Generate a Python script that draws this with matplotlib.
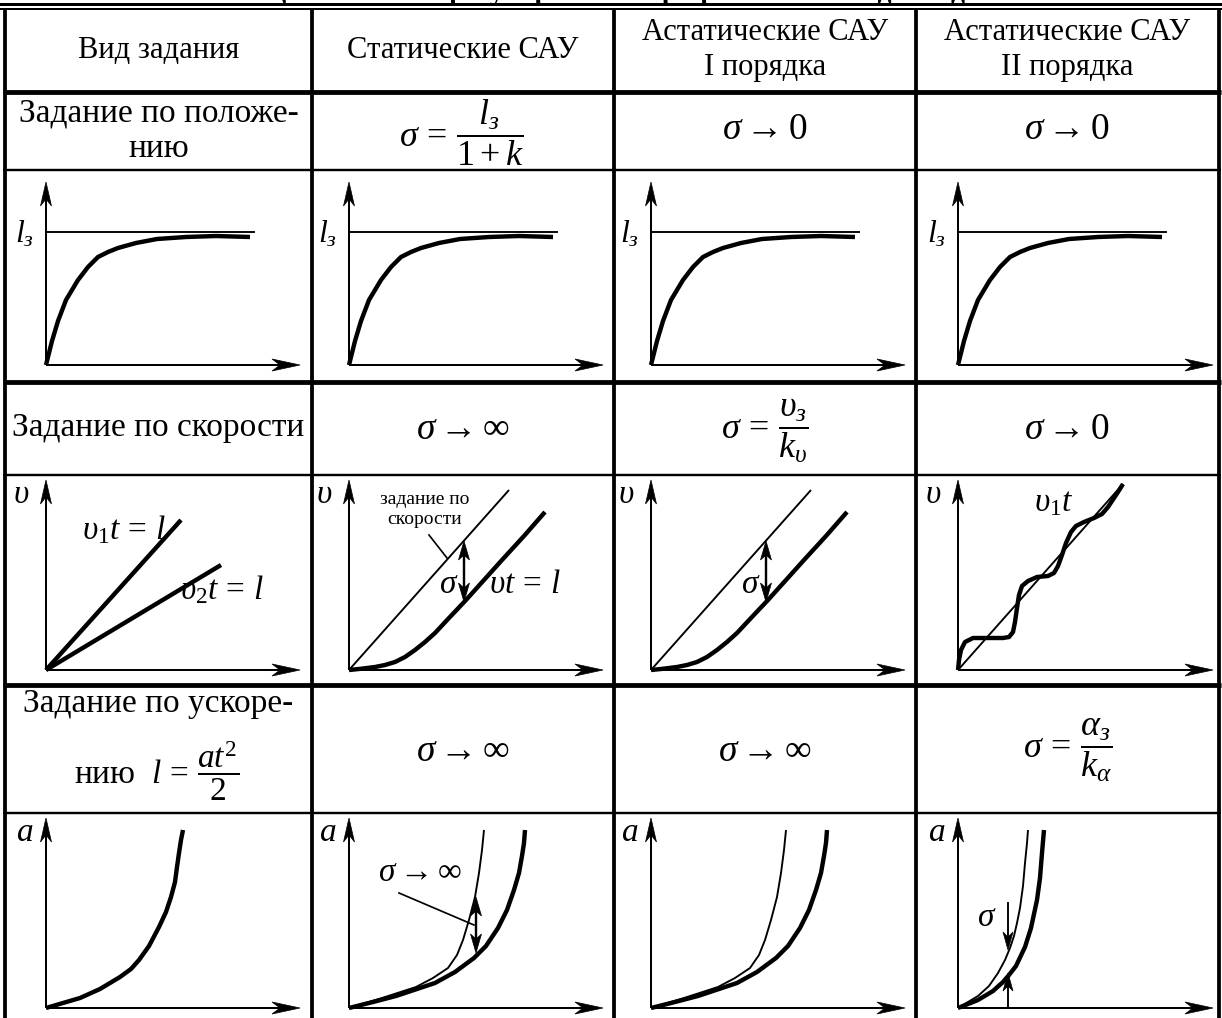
import matplotlib
matplotlib.use("Agg")
import matplotlib.pyplot as plt
import matplotlib.transforms as mtransforms
from matplotlib.patches import Polygon

plt.rcParams['font.family'] = ['Liberation Serif', 'DejaVu Serif']
plt.rcParams['mathtext.fontset'] = 'custom'
plt.rcParams['mathtext.rm'] = 'Liberation Serif'
plt.rcParams['mathtext.it'] = 'Liberation Serif:italic'
plt.rcParams['mathtext.bf'] = 'Liberation Serif:bold'
plt.rcParams['mathtext.fallback'] = 'stix'

# ---------------- data ----------------
COL_HEADERS = ["Вид задания", "Статические САУ",
               "Астатические САУ\nI порядка", "Астатические САУ\nII порядка"]
ROW1_TEXT = ["Задание по положе-\nнию",
             r"$\sigma\,=\,\dfrac{l_{\mathit{з}}}{1+k}$",
             r"$\sigma\rightarrow0$", r"$\sigma\rightarrow0$"]
ROW2_TEXT = ["Задание по скорости", r"$\sigma\rightarrow\infty$",
             r"$\sigma\,=\,\dfrac{\upsilon_{\mathit{з}}}{k_{\upsilon}}$",
             r"$\sigma\rightarrow0$"]
ROW3_TEXT = ["Задание по ускоре-", r"$\sigma\rightarrow\infty$",
             r"$\sigma\rightarrow\infty$",
             r"$\sigma\,=\,\dfrac{\alpha_{\mathit{з}}}{k_{\alpha}}$"]
ROW3_LINE2 = r"нию  $l\,=\,\dfrac{at^2}{2}$"
TITLE = "Таблица 2. Ошибки регулирования при различных видах задания"

# position response (l_з plots), local units
POS_SET_LEVEL = 133
POS_SET_T = [0, 208]
POS_T = [0, 6, 12, 20, 32, 42, 52, 62, 72, 90, 111, 140, 170, 204]
POS_L = [0, 24, 44, 65, 85, 98, 108, 113, 117, 122, 126, 128, 129, 128]

# velocity plots
V1_T, V1_L = [0, 135], [0, 150]
V2_T, V2_L = [0, 175], [0, 105]
VSET_T, VSET_L = [0, 160], [0, 180]
VRESP_T = [0, 10, 26, 36, 46, 56, 66, 76, 86, 100, 117, 135, 153, 175, 196]
VRESP_L = [0, 1, 3, 5, 8, 13, 20, 28, 37, 52, 70, 90, 110, 134, 158]
VSET4_T, VSET4_L = [0, 165], [0, 186]
VOSC_T = [0, 1, 3, 7, 15, 30, 45, 51, 55, 57, 59, 61, 64, 70, 79, 90, 96, 100,
          104, 108, 113, 118, 126, 136, 144, 150, 156, 160, 165]
VOSC_L = [0, 10, 20, 28, 32, 32, 32, 33, 38, 48, 62, 75, 84, 89, 93, 94, 97, 104,
          115, 127, 138, 144, 148, 152, 156, 163, 172, 178, 186]

# acceleration plots
A1_T = [0, 17, 34, 54, 74, 85, 93, 103, 113, 120, 125, 129, 131, 133, 135, 137]
A1_L = [0, 5, 10, 19, 31, 39, 48, 62, 81, 96, 111, 126, 141, 155, 168, 178]
ASET_T = [0, 33, 67, 84, 99, 108, 114, 120, 126, 130, 133, 135]
ASET_L = [0, 10, 21, 30, 40, 53, 68, 88, 111, 135, 158, 178]
ARESP_T = [0, 24, 47, 86, 106, 125, 137, 149, 158, 165, 170, 173, 175, 176]
ARESP_L = [0, 6, 12, 25, 36, 50, 62, 80, 98, 118, 135, 152, 165, 178]
A4SET_T = [0, 20, 31, 40, 47, 52, 56, 59, 62, 65, 67, 69, 70]
A4SET_L = [0, 12, 22, 35, 48, 60, 72, 85, 100, 122, 145, 165, 178]
A4RESP_T = [0, 20, 35, 45, 51, 58, 67, 73, 79, 82, 84, 86]
A4RESP_L = [0, 8, 17, 26, 33, 42, 61, 80, 108, 130, 155, 178]

# ---------------- layout ----------------
W, H = 1222, 1018
COL_X = [5, 312, 614, 916, 1219]
COL_C = [(COL_X[i] + COL_X[i + 1]) / 2 for i in range(4)]
AXIS_X = [46, 349, 651, 958]
XTIP = [300, 603, 905, 1213]
ORIGIN_Y = [365, 670, 1008]
YTOP = [182, 480, 818]

PX = 0.72  # points per pixel
K = 'black'

fig = plt.figure(figsize=(W / 100, H / 100), dpi=100)
ax = fig.add_axes([0, 0, 1, 1])
ax.set_xlim(0, W)
ax.set_ylim(H, 0)
ax.axis('off')


def local(ox, oy):
    return mtransforms.Affine2D().scale(1, -1).translate(ox, oy) + ax.transData


def head(tr, x, y, direction, L=24, hw=5.5, notch=7):
    if direction == 'up':
        pts = [(x, y), (x - hw, y - L), (x, y - L + notch), (x + hw, y - L)]
    elif direction == 'down':
        pts = [(x, y), (x - hw, y + L), (x, y + L - notch), (x + hw, y + L)]
    else:
        pts = [(x, y), (x - L, y + hw), (x - L + notch, y), (x - L, y - hw)]
    ax.add_patch(Polygon(pts, closed=True, transform=tr, facecolor=K,
                         edgecolor=K, lw=0.5, zorder=5))


def frame(ci, ri):
    ox, oy = AXIS_X[ci], ORIGIN_Y[ri]
    tr = local(ox, oy)
    ylen = oy - YTOP[ri]
    xlen = XTIP[ci] - ox
    ax.plot([0, 0], [0, ylen - 12], color=K, lw=2 * PX, transform=tr,
            solid_capstyle='butt')
    ax.plot([0, xlen - 12], [0, 0], color=K, lw=2 * PX, transform=tr,
            solid_capstyle='butt')
    head(tr, 0, ylen, 'up')
    head(tr, xlen, 0, 'right', L=28, hw=6, notch=8)
    return tr


def curve(tr, xs, ys, thick=True):
    ax.plot(xs, ys, color=K, lw=(4.4 if thick else 1.9) * PX, transform=tr,
            solid_joinstyle='round', solid_capstyle='butt', zorder=4)


# ---------------- table grid ----------------
ax.plot([0, W], [3.5, 3.5], color=K, lw=3 * PX)
ax.plot([0, W], [8.5, 8.5], color=K, lw=2 * PX)
for x in COL_X:
    ax.plot([x, x], [8, H], color=K, lw=3.8 * PX, solid_capstyle='butt')
for y, lw in [(92, 4.8), (170, 2.4), (382, 4.8), (475, 2.4), (685, 4.8), (813, 2.4)]:
    ax.plot([COL_X[0] - 2, COL_X[-1] + 2], [y, y], color=K, lw=lw * PX,
            solid_capstyle='butt')

ax.text(610, -7, TITLE, ha='center', va='center', fontsize=20,
        fontweight='bold')

FH = 22   # header size
FS = 24   # body text size
FM = 26   # formula size
FA = 27   # "sigma ->" size
# header
for i, t in enumerate(COL_HEADERS):
    ax.text(COL_C[i], 50, t, ha='center', va='center', fontsize=FH,
            linespacing=1.25)
# row 1
ax.text(COL_C[0], 131, ROW1_TEXT[0], ha='center', va='center', fontsize=FS,
        linespacing=1.2)
ax.text(COL_C[1] - 2, 133, ROW1_TEXT[1], ha='center', va='center', fontsize=FM)
ax.text(COL_C[2], 130, ROW1_TEXT[2], ha='center', va='center', fontsize=FA)
ax.text(COL_C[3], 130, ROW1_TEXT[3], ha='center', va='center', fontsize=FA)
# row 2
ax.text(COL_C[0], 428, ROW2_TEXT[0], ha='center', va='center', fontsize=FS)
ax.text(COL_C[1], 430, ROW2_TEXT[1], ha='center', va='center', fontsize=FA)
ax.text(COL_C[2], 431, ROW2_TEXT[2], ha='center', va='center', fontsize=FM)
ax.text(COL_C[3], 430, ROW2_TEXT[3], ha='center', va='center', fontsize=FA)
# row 3
ax.text(COL_C[0], 704, ROW3_TEXT[0], ha='center', va='center', fontsize=FS)
ax.text(COL_C[0] - 2, 771, ROW3_LINE2, ha='center', va='center', fontsize=FS)
ax.text(COL_C[1], 752, ROW3_TEXT[1], ha='center', va='center', fontsize=FA)
ax.text(COL_C[2], 752, ROW3_TEXT[2], ha='center', va='center', fontsize=FA)
ax.text(COL_C[3], 750, ROW3_TEXT[3], ha='center', va='center', fontsize=FM)

# ---------------- row 1 plots ----------------
for ci in range(4):
    tr = frame(ci, 0)
    ax.plot(POS_SET_T, [POS_SET_LEVEL] * 2, color=K, lw=1.9 * PX, transform=tr)
    curve(tr, POS_T, POS_L)
    ax.text(-21, POS_SET_LEVEL - 2, r"$l_{\mathit{з}}$", transform=tr,
            ha='center', va='center', fontsize=23)

# ---------------- row 2 plots ----------------
tr = frame(0, 1)
curve(tr, V1_T, V1_L)
curve(tr, V2_T, V2_L)
ax.text(-25, 175, r"$\upsilon$", transform=tr, ha='center', va='center', fontsize=24)
ax.text(78, 140, r"$\upsilon_1 t\,=\,l$", transform=tr, ha='center', va='center', fontsize=24)
ax.text(176, 80, r"$\upsilon_2 t\,=\,l$", transform=tr, ha='center', va='center', fontsize=24)

for ci in (1, 2):
    tr = frame(ci, 1)
    curve(tr, VSET_T, VSET_L, thick=False)
    curve(tr, VRESP_T, VRESP_L)
    ax.text(-25, 175, r"$\upsilon$", transform=tr, ha='center', va='center', fontsize=24)
    ax.plot([115, 115], [116, 81], color=K, lw=2.4 * PX, transform=tr)
    head(tr, 115, 129, 'up', L=19, hw=5.5, notch=5)
    head(tr, 115, 68, 'down', L=19, hw=5.5, notch=5)
    ax.text(100, 85, r"$\sigma$", transform=tr, ha='center', va='center', fontsize=24)
ax_tr = local(AXIS_X[1], ORIGIN_Y[1])
ax.text(176, 85, r"$\upsilon t\,=\,l$", transform=ax_tr, ha='center', va='center', fontsize=24)
ax.text(76, 171, "задание по", transform=ax_tr, ha='center', va='center', fontsize=14)
ax.text(76, 150, "скорости", transform=ax_tr, ha='center', va='center', fontsize=14)
ax.plot([80, 98], [135, 112], color=K, lw=1.7 * PX, transform=ax_tr)

tr = frame(3, 1)
curve(tr, VSET4_T, VSET4_L, thick=False)
curve(tr, VOSC_T, VOSC_L)
ax.text(-25, 175, r"$\upsilon$", transform=tr, ha='center', va='center', fontsize=24)
ax.text(96, 167, r"$\upsilon_1 t$", transform=tr, ha='center', va='center', fontsize=24)

# ---------------- row 3 plots ----------------
tr = frame(0, 2)
curve(tr, A1_T, A1_L)
ax.text(-21, 175, r"$a$", transform=tr, ha='center', va='center', fontsize=24)

for ci in (1, 2):
    tr = frame(ci, 2)
    curve(tr, ASET_T, ASET_L, thick=False)
    curve(tr, ARESP_T, ARESP_L)
    ax.text(-21, 175, r"$a$", transform=tr, ha='center', va='center', fontsize=24)
tr = local(AXIS_X[1], ORIGIN_Y[2])
ax.plot([127, 127], [98, 68], color=K, lw=2.4 * PX, transform=tr)
head(tr, 127, 111, 'up', L=19, hw=5.5, notch=5)
head(tr, 127, 55, 'down', L=19, hw=5.5, notch=5)
ax.plot([50, 125], [115, 83], color=K, lw=1.7 * PX, transform=tr)
ax.text(71, 135, r"$\sigma\rightarrow\infty$", transform=tr, ha='center',
        va='center', fontsize=24)

tr = frame(3, 2)
curve(tr, A4SET_T, A4SET_L, thick=False)
curve(tr, A4RESP_T, A4RESP_L)
ax.text(-21, 175, r"$a$", transform=tr, ha='center', va='center', fontsize=24)
ax.plot([50, 50], [105, 70], color=K, lw=1.9 * PX, transform=tr)
head(tr, 50, 58, 'down', L=18, hw=5, notch=5)
ax.plot([50, 50], [1, 22], color=K, lw=1.9 * PX, transform=tr)
head(tr, 50, 35, 'up', L=18, hw=5, notch=5)
ax.text(29, 90, r"$\sigma$", transform=tr, ha='center', va='center', fontsize=24)

fig.savefig("out.png", dpi=100)
